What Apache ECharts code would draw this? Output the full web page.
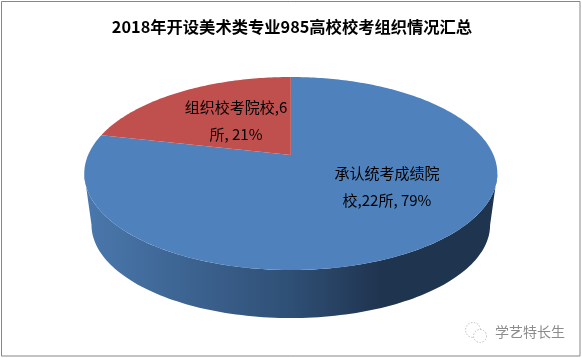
<!DOCTYPE html>
<html>
<head>
<meta charset="utf-8">
<style>
  html, body { margin: 0; padding: 0; background: #fff; }
  #main { width: 582px; height: 358px; }
</style>
<script src="https://cdn.jsdelivr.net/npm/echarts@6/dist/echarts.min.js"></script>
</head>
<body>
<div id="main"></div>
<script>
const titleText = '2018年开设美术类专业985高校校考组织情况汇总'
const categories = ['承认统考成绩院校', '组织校考院校']
const schoolCounts = [22, 6]
const sliceColors = ['#4f81bd', '#c0504d']
const watermark = '学艺特长生'
const FONT = '"Noto Sans CJK SC", sans-serif'

// pie seen in perspective: circle point -> screen
const cx = 290.8, cy = 155, A = 202.7, B = 92.96, k = 0.1917
const sideScale = 0.965, topMidY = 173.5, bottomMidY = 224.9

const total = schoolCounts.reduce((a, b) => a + b, 0)

function proj(t) {
  const u = Math.sin(t), v = Math.cos(t), w = 1 + k * v
  return [cx + A * u / w, cy - B * v / w]
}
function projBottom(t) {
  const p = proj(t)
  return [cx + sideScale * (p[0] - cx), bottomMidY + sideScale * (p[1] - topMidY)]
}

function sideShape() {
  const from = Math.acos(-k), to = Math.PI * 2 - from
  const pts = []
  for (let i = 0; i <= 120; i++) pts.push(proj(from + (to - from) * i / 120))
  for (let i = 120; i >= 0; i--) pts.push(projBottom(from + (to - from) * i / 120))
  return pts
}

function slicePoints(start, end) {
  const pts = [[cx, cy]]
  const n = Math.ceil((end - start) * 60)
  for (let i = 0; i <= n; i++) pts.push(proj(start + (end - start) * i / n))
  return pts
}

// wrapped like the original, name,count所, pct%
function labelFor(i) {
  const pct = Math.round(schoolCounts[i] / total * 100)
  const full = categories[i] + ',' + schoolCounts[i] + '所, ' + pct + '%'
  const cut = i === 0 ? 7 : 8
  return full.slice(0, cut) + '\n' + full.slice(cut)
}
const labelPos = [[387, 187], [236, 121]]

const renderSlice = (params, api) => {
  const i = params.dataIndex
  const before = schoolCounts.slice(0, i).reduce((a, b) => a + b, 0)
  const start = before / total * Math.PI * 2
  const end = (before + api.value(0)) / total * Math.PI * 2
  const children = []
  if (i === 0) {
    children.push({
      type: 'polygon',
      shape: { points: sideShape() },
      style: {
        fill: new echarts.graphic.LinearGradient(0, 0, 1, 0, [
          { offset: 0, color: '#4a78ad' },
          { offset: 0.5, color: '#2f4f75' },
          { offset: 0.72, color: '#1f344f' },
          { offset: 1, color: '#1f344f' }
        ])
      }
    })
  }
  children.push({
    type: 'polygon',
    shape: { points: slicePoints(start, end) },
    style: { fill: sliceColors[i] }
  })
  children.push({
    type: 'text',
    z2: 10,
    x: labelPos[i][0],
    y: labelPos[i][1],
    style: {
      text: labelFor(i),
      fill: '#000',
      font: '15px ' + FONT,
      align: 'center',
      verticalAlign: 'middle',
      lineHeight: 27
    }
  })
  return { type: 'group', children }
}

const chart = echarts.init(document.getElementById('main'))
chart.setOption({
  animation: false,
  backgroundColor: '#fff',
  title: {
    text: titleText,
    left: 287,
    top: 14,
    textAlign: 'center',
    textStyle: { fontFamily: FONT, fontSize: 16.3, fontWeight: 'bold', color: '#000' }
  },
  graphic: [
    { type: 'rect', shape: { x: 1.5, y: 1.5, width: 578.5, height: 354.5 }, style: { fill: 'none', stroke: '#868686', lineWidth: 1 }, z: -1 },
    { type: 'circle', shape: { cx: 473, cy: 330, r: 7.5 }, style: { fill: 'none', stroke: '#b0b0b0', lineWidth: 0.8, lineDash: [1.5, 1.5] } },
    { type: 'circle', shape: { cx: 480, cy: 336, r: 6.5 }, style: { fill: '#fff', stroke: '#b0b0b0', lineWidth: 0.8, lineDash: [1.5, 1.5] } },
    { type: 'text', x: 495, y: 325, style: { text: watermark, fill: '#8c8c8c', font: '14px ' + FONT } }
  ],
  series: [{
    type: 'custom',
    coordinateSystem: 'none',
    renderItem: renderSlice,
    data: schoolCounts.map((v, i) => ({ name: categories[i], value: [v] }))
  }]
})
</script>
</body>
</html>
